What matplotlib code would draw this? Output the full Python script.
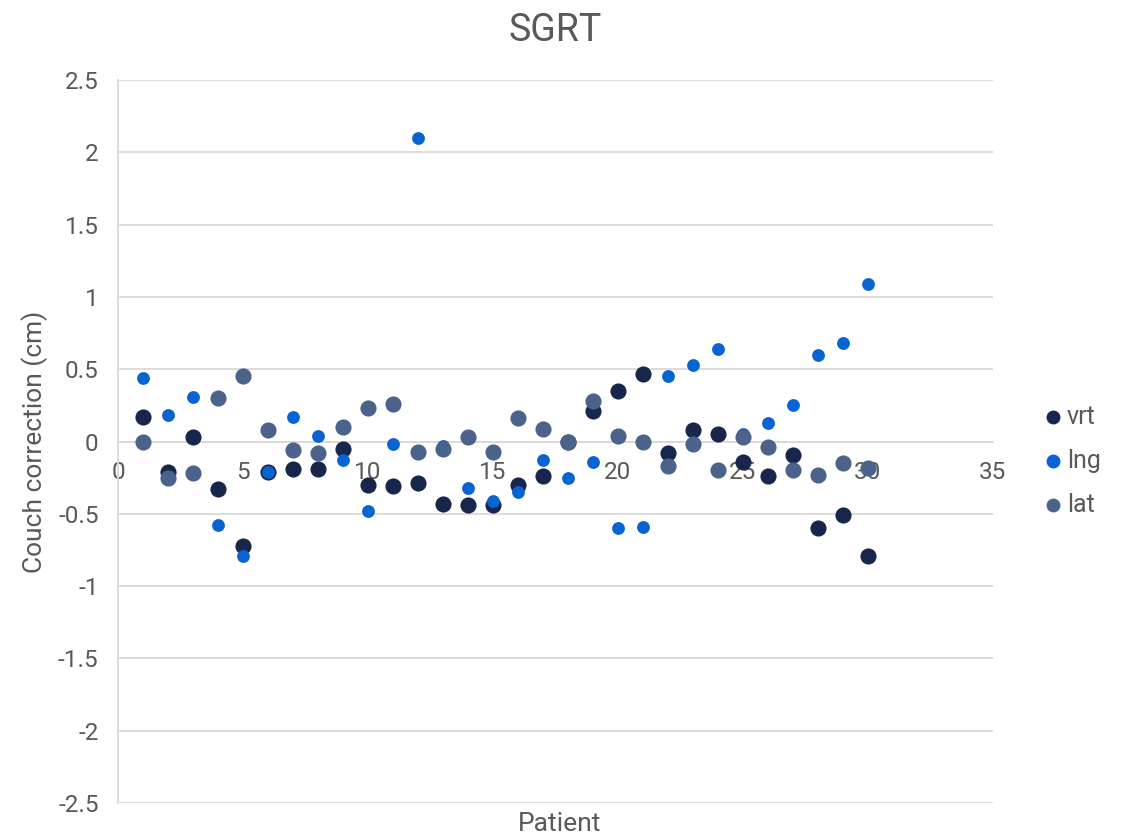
import matplotlib
matplotlib.use("Agg")
import matplotlib.pyplot as plt

plt.rcParams['font.family'] = ['Roboto', 'DejaVu Sans']

patients = list(range(1, 31))
vrt = [0.17, -0.21, 0.03, -0.33, -0.72, -0.21, -0.19, -0.19, -0.05, -0.30,
       -0.31, -0.29, -0.43, -0.44, -0.44, -0.30, -0.24, 0.00, 0.21, 0.35,
       0.47, -0.08, 0.08, 0.05, -0.14, -0.24, -0.09, -0.60, -0.51, -0.79]
lng = [0.44, 0.18, 0.31, -0.58, -0.79, -0.21, 0.17, 0.04, -0.13, -0.48,
       -0.02, 2.10, -0.03, -0.32, -0.41, -0.35, -0.13, -0.25, -0.14, -0.60,
       -0.59, 0.45, 0.53, 0.64, 0.05, 0.13, 0.25, 0.60, 0.68, 1.09]
lat = [0.00, -0.25, -0.22, 0.30, 0.45, 0.08, -0.06, -0.08, 0.10, 0.23,
       0.26, -0.07, -0.05, 0.03, -0.07, 0.16, 0.09, 0.00, 0.28, 0.04,
       0.00, -0.17, -0.02, -0.20, 0.03, -0.04, -0.20, -0.23, -0.15, -0.18]

series = [("vrt", vrt, "#17264a", 135), ("lng", lng, "#0863d3", 85), ("lat", lat, "#4b638b", 135)]

fig = plt.figure(figsize=(11.27, 8.39), dpi=100)
ax = fig.add_axes([0.1047, 0.0429, 0.7764, 0.8617])

for name, vals, col, s in series:
    ax.scatter(patients, vals, s=s, color=col, label=name, zorder=3, linewidths=0)

ax.set_xlim(0, 35)
ax.set_ylim(-2.5, 2.5)
ax.set_xticks(range(0, 36, 5))
ax.set_yticks([-2.5, -2, -1.5, -1, -0.5, 0, 0.5, 1, 1.5, 2, 2.5])
ax.set_yticklabels(["-2.5", "-2", "-1.5", "-1", "-0.5", "0", "0.5", "1", "1.5", "2", "2.5"])
ax.yaxis.grid(True, color="#d9d9d9", linewidth=1.3, zorder=0)
ax.set_axisbelow(True)

for sp in ["top", "right"]:
    ax.spines[sp].set_visible(False)
ax.spines["left"].set_color("#d9d9d9")
ax.spines["left"].set_linewidth(1.3)
ax.spines["bottom"].set_position(("data", 0))
ax.spines["bottom"].set_color("#d9d9d9")
ax.spines["bottom"].set_linewidth(1.3)
ax.tick_params(axis="both", length=0, labelsize=17.5, labelcolor="#595959")
ax.tick_params(axis="y", pad=14)
ax.tick_params(axis="x", pad=14)

ax.set_title("SGRT", fontsize=27, color="#595959", pad=28)
ax.set_ylabel("Couch correction (cm)", fontsize=19, color="#595959", labelpad=7)
fig.text(0.4963, 0.004, "Patient", ha="center", va="bottom", fontsize=19, color="#595959")

leg = ax.legend(loc="center left", bbox_to_anchor=(1.043, 0.473), frameon=False,
                fontsize=18, labelcolor="#595959", handletextpad=0.05, handlelength=1.0,
                labelspacing=0.8, borderaxespad=0)
for h in leg.legend_handles:
    h.set_sizes([100])

fig.savefig("out.png", dpi=100)
